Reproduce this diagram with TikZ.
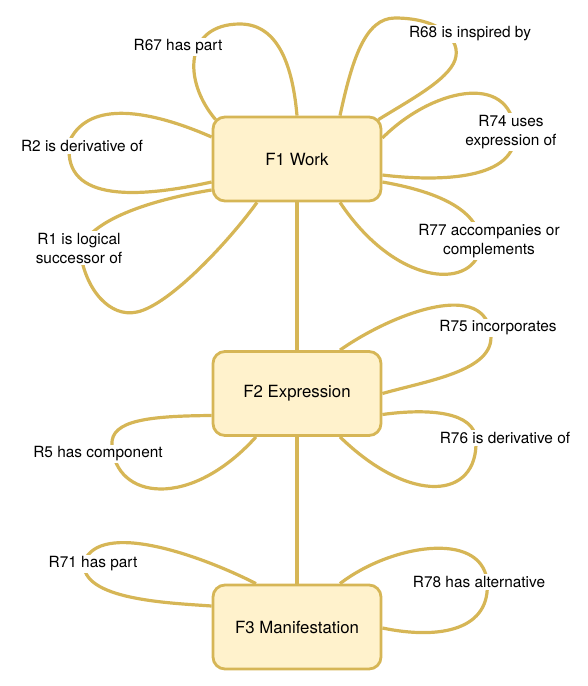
\documentclass[tikz,border=0pt]{standalone}
\usepackage{fontspec}
\setmainfont{TeX Gyre Heros}
\usetikzlibrary{backgrounds}
\definecolor{goldline}{HTML}{D6B656}
\definecolor{goldfill}{HTML}{FFF2CC}
\begin{document}
\begin{tikzpicture}[x=1pt,y=-1pt,
    entity/.style={draw=goldline,fill=goldfill,line width=2.8pt,rounded corners=12pt,
      minimum width=168pt,minimum height=84pt,font=\fontsize{16.8}{20}\selectfont},
    rel/.style={fill=white,inner sep=2pt,align=center,font=\fontsize{15.4}{19}\selectfont},
    link/.style={draw=goldline,line width=3.2pt}]
    \useasboundingbox (0,0) rectangle (587,686);

    %% ENTITIES
    \node[entity] (F1) at (297,159) {F1 Work};
    \node[entity] (F2) at (297,393.5) {F2 Expression};
    \node[entity] (F3) at (297,627) {F3 Manifestation};

    %% RELATIONS
    % Work
    \node[rel] (r67) at (178,47) {R67 has part};
    \node[rel] (r68) at (470,34) {R68 is inspired by};
    \node[rel] (r74) at (511,132) {R74 uses\\expression of};
    \node[rel] (r77) at (489,241) {R77 accompanies or\\complements};
    \node[rel] (r2) at (82,146) {R2 is derivative of};
    \node[rel] (r1) at (79,248) {R1 is logical\\successor of};
    % Expression
    \node[rel] (r75) at (498,328) {R75 incorporates};
    \node[rel] (r76) at (505,438) {R76 is derivative of};
    \node[rel] (r5) at (98,454) {R5 has component};
    % Manifestation
    \node[rel] (r71) at (93,564) {R71 has part};
    \node[rel] (r78) at (479,582) {R78 has alternative};

    \begin{pgfonlayer}{background}
        %% LINKS
        \draw[link] (F1) -- (F2);
        \draw[link] (F2) -- (F3);

        %% LOOPS (F1)
        % R67
        \draw[link] ([shift={(4,4)}]F1.north west) .. controls (182,80) and (185,24) .. (240,24)
            .. controls (280,24) and (293,70) .. (F1.north);
        % R68
        \draw[link] ([shift={(43,0)}]F1.north) .. controls (352,60) and (365,18) .. (395,18)
            .. controls (440,18) and (462,40) .. (455,60)
            .. controls (448,80) and (410,100) .. ([shift={(-4,4)}]F1.north east);
        % R74
        \draw[link] ([shift={(0,-21)}]F1.east) .. controls (430,90) and (510,70) .. (515,132)
            .. controls (518,180) and (440,182) .. ([shift={(0,16)}]F1.east);
        % R77
        \draw[link] ([shift={(0,23)}]F1.east) .. controls (440,192) and (485,212) .. (480,250)
            .. controls (470,290) and (395,285) .. ([shift={(43,0)}]F1.south);
        % R2
        \draw[link] ([shift={(0,-22)}]F1.west) .. controls (150,110) and (90,100) .. (70,140)
            .. controls (60,200) and (130,200) .. ([shift={(0,23)}]F1.west);
        % R1
        \draw[link] ([shift={(0,31)}]F1.west) .. controls (150,200) and (90,220) .. (80,250)
            .. controls (85,290) and (110,318) .. (137,312)
            .. controls (170,305) and (230,240) .. ([shift={(-40,0)}]F1.south);

        %% LOOPS (F2)
        % R75
        \draw[link] ([shift={(43,0)}]F2.north) .. controls (390,315) and (480,280) .. (490,330)
            .. controls (500,370) and (430,380) .. (F2.east);
        % R76
        \draw[link] ([shift={(0,21)}]F2.east) .. controls (430,408) and (475,412) .. (476,440)
            .. controls (478,500) and (410,505) .. ([shift={(43,0)}]F2.south);
        % R5
        \draw[link] ([shift={(0,22)}]F2.west) .. controls (150,416) and (110,420) .. (112,445)
            .. controls (115,500) and (190,510) .. ([shift={(-41,0)}]F2.south);

        %% LOOPS (F3)
        % R71
        \draw[link] ([shift={(-41,0)}]F3.north) .. controls (200,555) and (100,520) .. (84,562)
            .. controls (80,600) and (170,603) .. ([shift={(0,-21)}]F3.west);
        % R78
        \draw[link] ([shift={(43,0)}]F3.north) .. controls (390,545) and (480,530) .. (487,580)
            .. controls (492,630) and (440,640) .. ([shift={(0,1)}]F3.east);
    \end{pgfonlayer}
\end{tikzpicture}
\end{document}
